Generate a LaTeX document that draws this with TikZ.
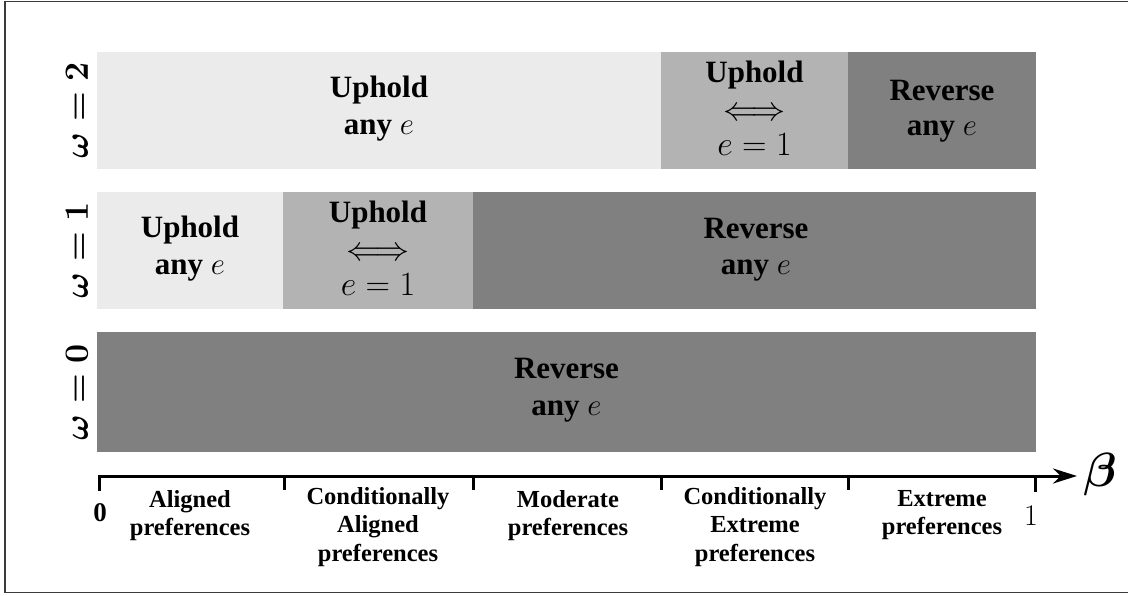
\RequirePackage{fix-cm}
\documentclass[tikz,border=0pt]{standalone}
\usepackage{fontspec}
\setmainfont{Liberation Serif}
\usetikzlibrary{arrows.meta}
\definecolor{lightg}{HTML}{EBEBEB}
\definecolor{midg}{HTML}{B3B3B3}
\definecolor{darkg}{HTML}{808080}
\definecolor{framec}{HTML}{3A3A3A}
\begin{document}
\begin{tikzpicture}[x=1pt,y=-1pt,
  blk/.style={inner sep=0pt, outer sep=0pt, minimum height=117pt},
  btxt/.style={anchor=base, inner sep=0pt, font=\fontsize{31}{36}\selectfont\bfseries},
  mtxt/.style={anchor=base, inner sep=0pt, font=\fontsize{34}{36}\selectfont},
  wlab/.style={rotate=90, inner sep=0pt, font=\fontsize{34}{40}\selectfont\boldmath},
  axlab/.style={anchor=north, align=center, inner sep=0pt, font=\fontsize{24.5}{28.5}\selectfont\bfseries},
  axisline/.style={line width=3pt},
  tick/.style={line width=3pt}
]
\useasboundingbox (0,0) rectangle (1128,595);
% frame
\draw[framec, line width=1.5pt] (1128,1.5) -- (5,1.5) -- (5,592.5) -- (1128,592.5);

% ---------- blocks ----------
% row omega = 2
\node[blk, fill=lightg, minimum width=564pt] (r2a) at (379,110.5) {};
\node[blk, fill=midg, minimum width=187pt] (r2b) at (754.5,110.5) {};
\node[blk, fill=darkg, minimum width=188pt] (r2c) at (942,110.5) {};
% row omega = 1
\node[blk, fill=lightg, minimum width=186pt] (r1a) at (190,250.5) {};
\node[blk, fill=midg, minimum width=190pt] (r1b) at (378,250.5) {};
\node[blk, fill=darkg, minimum width=563pt] (r1c) at (754.5,250.5) {};
% row omega = 0
\node[blk, fill=darkg, minimum width=939pt, minimum height=120pt] (r0a) at (566.5,392) {};

% ---------- block texts ----------
\node[btxt] (r2a1) at (379,97) {Uphold};
\node[btxt] (r2a2) at (379,134) {any $e$};
\node[btxt] (r2b1) at (754.5,82) {Uphold};
\node[mtxt] (r2b2) at (754.5,120.5) {$\Longleftrightarrow$};
\node[mtxt] (r2b3) at (754.5,155) {$e=1$};
\node[btxt] (r2c1) at (942,100) {Reverse};
\node[btxt] (r2c2) at (942,135) {any $e$};

\node[btxt] (r1a1) at (190,237) {Uphold};
\node[btxt] (r1a2) at (190,274) {any $e$};
\node[btxt] (r1b1) at (378,222) {Uphold};
\node[mtxt] (r1b2) at (378,260.5) {$\Longleftrightarrow$};
\node[mtxt] (r1b3) at (378,295) {$e=1$};
\node[btxt] (r1c1) at (756,238) {Reverse};
\node[btxt] (r1c2) at (756,274) {any $e$};

\node[btxt] (r0a1) at (566.5,378) {Reverse};
\node[btxt] (r0a2) at (566.5,415) {any $e$};

% omega labels
\node[wlab] (w2) at (77,110) {$\omega = 2$};
\node[wlab] (w1) at (77,250) {$\omega = 1$};
\node[wlab] (w0) at (77,392) {$\omega = 0$};

% ---------- axis ----------
\coordinate (t0) at (99,476);
\coordinate (t1) at (284,476);
\coordinate (t2) at (473,476);
\coordinate (t3) at (661,476);
\coordinate (t4) at (848,476);
\coordinate (t5) at (1035,476);
\coordinate (tip) at (1077,476);
\coordinate (b0) at (99,491);
\draw[axisline, -{Stealth[length=24pt,width=15pt]}] (b0) -- (t0) -- (tip);
\foreach \t in {t1,t2,t3,t4} \draw[tick] (\t) -- ++(0,14);
\draw[tick] (t5) -- ++(0,16);
\node[inner sep=0pt, font=\fontsize{48}{52}\selectfont\boldmath] (beta) at (1100,474) {$\beta$};

\node[inner sep=0pt, font=\fontsize{27}{30}\selectfont\bfseries] (zero) at (100,513) {0};
\node[inner sep=0pt, anchor=base, font=\fontsize{30}{34}\selectfont] (one) at (1031,525) {$1$};

\node[axlab] (l1) at (190,490) {Aligned\\preferences};
\node[axlab] (l2) at (378,487) {Conditionally\\Aligned\\preferences};
\node[axlab] (l3) at (568,490) {Moderate\\preferences};
\node[axlab] (l4) at (755,487) {Conditionally\\Extreme\\preferences};
\node[axlab] (l5) at (942,490) {Extreme\\preferences};
\end{tikzpicture}
\end{document}
